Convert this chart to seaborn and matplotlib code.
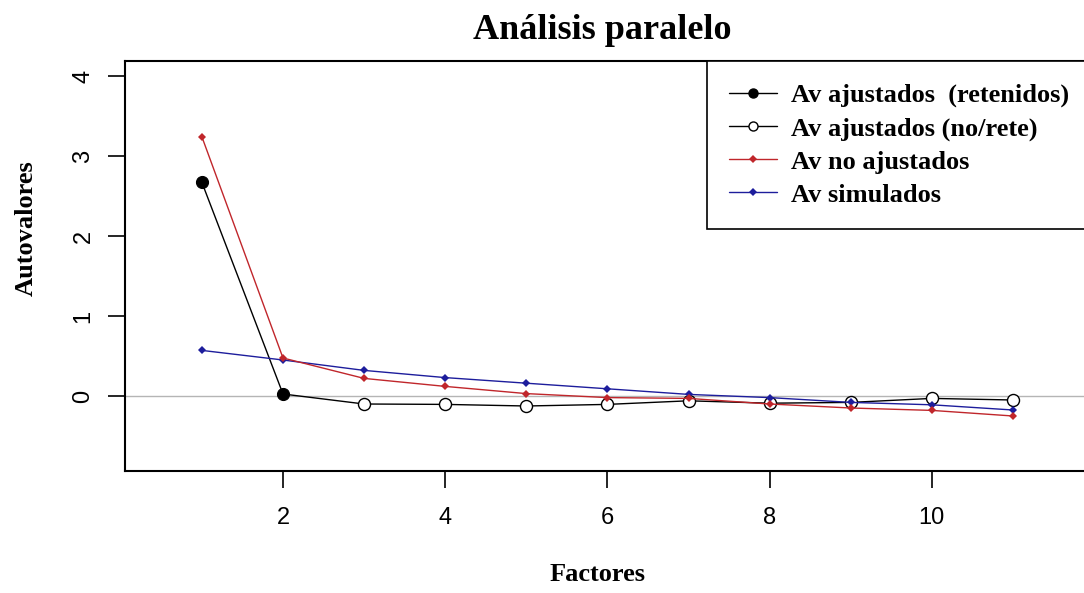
import numpy as np
import pandas as pd
import matplotlib
matplotlib.use("Agg")
import matplotlib.pyplot as plt
from matplotlib.lines import Line2D
import seaborn as sns

# Parallel analysis: eigenvalues per factor
factors = [1, 2, 3, 4, 5, 6, 7, 8, 9, 10, 11]
adjusted = [2.67, 0.025, -0.10, -0.105, -0.125, -0.105, -0.06, -0.09, -0.08, -0.03, -0.05]
unadjusted = [3.24, 0.475, 0.22, 0.12, 0.03, -0.02, -0.03, -0.10, -0.15, -0.18, -0.25]
simulated = [0.57, 0.45, 0.32, 0.23, 0.16, 0.09, 0.02, -0.02, -0.08, -0.11, -0.175]
n_retained = 2

legend_labels = ["Av ajustados  (retenidos)", "Av ajustados (no/rete)",
                 "Av no ajustados", "Av simulados"]
x_ticks = [2, 4, 6, 8, 10]
y_ticks = [0, 1, 2, 3, 4]

RED = "#c0262b"
BLUE = "#1d1d9c"

sns.set_style("white")
plt.rcParams["font.family"] = ["Liberation Serif", "DejaVu Serif"]
plt.rcParams["text.color"] = "black"
plt.rcParams["axes.labelcolor"] = "black"
plt.rcParams["xtick.color"] = "black"
plt.rcParams["ytick.color"] = "black"

df = pd.DataFrame({"factor": factors, "adjusted": adjusted,
                   "unadjusted": unadjusted, "simulated": simulated})
kept = df.iloc[:n_retained]
dropped = df.iloc[n_retained:]

fig = plt.figure(figsize=(10.84, 5.93), dpi=100)
ax = fig.add_axes([125 / 1084, 1 - 471 / 593, (1090 - 125) / 1084, (471 - 61) / 593])

ax.axhline(0, color="#b5b5b5", lw=1.0, zorder=0)

sns.lineplot(data=df, x="factor", y="adjusted", ax=ax, color="black", lw=1.0, zorder=2)
sns.scatterplot(data=kept, x="factor", y="adjusted", ax=ax, color="black",
                s=75, edgecolor="black", linewidth=0.8, zorder=3)
sns.scatterplot(data=dropped, x="factor", y="adjusted", ax=ax, color="white",
                s=75, edgecolor="black", linewidth=1.0, zorder=3)
sns.lineplot(data=df, x="factor", y="simulated", ax=ax, color=BLUE, lw=1.0,
             marker="D", markersize=4.5, markeredgewidth=0, zorder=4)
sns.lineplot(data=df, x="factor", y="unadjusted", ax=ax, color=RED, lw=1.0,
             marker="D", markersize=4.5, markeredgewidth=0, zorder=5)

ax.set_xlim(0.052, 11.95)
ax.set_ylim(-0.9375, 4.1875)
ax.set_xticks(x_ticks)
ax.set_yticks(y_ticks)
ax.set_xticklabels([str(v) for v in x_ticks], fontfamily="Liberation Sans", fontsize=17)
ax.set_yticklabels([str(v) for v in y_ticks], fontfamily="Liberation Sans", fontsize=17,
                   rotation=90, va="center")
ax.tick_params(axis="x", direction="out", length=12, width=1.2, pad=14, bottom=True)
ax.tick_params(axis="y", direction="out", length=12, width=1.2, pad=10, left=True)

for side in ["left", "right", "top", "bottom"]:
    ax.spines[side].set_color("black")
    ax.spines[side].set_linewidth(1.5)

ax.set_title("Análisis paralelo", fontsize=26, fontweight="bold", x=0.495, pad=16,
             color="black")
ax.set_xlabel("Factores", fontsize=19, fontweight="bold")
ax.set_ylabel("Autovalores", fontsize=19, fontweight="bold")
ax.xaxis.set_label_coords(0.49, -0.224)
ax.yaxis.set_label_coords(-0.090, 0.593)

handles = [
    Line2D([], [], color="black", lw=1.0, marker="o", markersize=6.5,
           markerfacecolor="black", markeredgecolor="black"),
    Line2D([], [], color="black", lw=1.0, marker="o", markersize=6.5,
           markerfacecolor="white", markeredgecolor="black"),
    Line2D([], [], color=RED, lw=1.0, marker="D", markersize=4, markeredgewidth=0),
    Line2D([], [], color=BLUE, lw=1.0, marker="D", markersize=4, markeredgewidth=0),
]
leg = ax.legend(handles, legend_labels, loc="upper left",
                bbox_to_anchor=(707 / 1084, 1 - 61 / 593), bbox_transform=fig.transFigure,
                prop={"family": "Liberation Serif", "weight": "bold", "size": 19},
                frameon=True, fancybox=False, framealpha=1, edgecolor="black",
                borderaxespad=0, borderpad=0.85, handlelength=1.8, handletextpad=0.55,
                labelspacing=0.36)
leg.get_frame().set_linewidth(1.2)

fig.savefig("out.png", dpi=100)
